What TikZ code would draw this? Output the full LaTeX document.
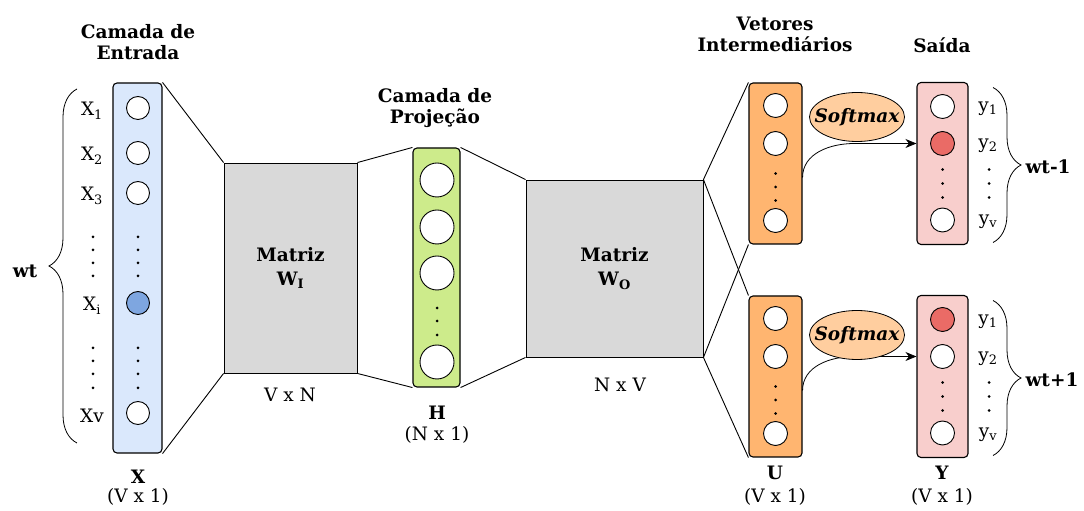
\documentclass[tikz,border=0pt]{standalone}
\usepackage{fontspec}
\setmainfont{DejaVu Serif}
\usetikzlibrary{shapes.geometric,decorations.pathreplacing,arrows.meta}

\definecolor{azul}{HTML}{DAE8FC}
\definecolor{azulesc}{HTML}{7EA6E0}
\definecolor{verde}{HTML}{CDEB8B}
\definecolor{laranja}{HTML}{FFB570}
\definecolor{pessego}{HTML}{FFCE9F}
\definecolor{rosa}{HTML}{F8CECC}
\definecolor{vermelho}{HTML}{EA6B66}
\definecolor{cinza}{HTML}{D9D9D9}

\begin{document}
\begin{tikzpicture}[
x=1pt,y=1pt,
every node/.style={font=\fontsize{18.5}{21}\selectfont},
coluna/.style={draw=black,line width=1.1pt,rounded corners=4pt,inner sep=0pt},
neuro/.style={circle,draw=black,fill=white,line width=0.9pt,inner sep=0pt,minimum size=#1},
neuro/.default=23pt,
matriz/.style={draw=black,fill=cinza,line width=0.9pt,align=center,
	font=\fontsize{18.5}{24}\selectfont\bfseries},
titulo/.style={align=center,font=\fontsize{18.5}{21}\selectfont\bfseries},
softmax/.style={ellipse,draw=black,fill=pessego,line width=0.8pt,inner xsep=-12pt,inner ysep=0pt,
	minimum width=95pt,minimum height=49pt,font=\fontsize{18.5}{21}\selectfont\bfseries\itshape},
chave/.style={decorate,decoration={brace,amplitude=28pt},line width=0.8pt},
liga/.style={line width=0.9pt},
seta/.style={-{Stealth[length=11pt,width=9pt]},line width=0.8pt}
]
\useasboundingbox (0,0) rectangle (1084,511);

% camada de entrada
\node[titulo] (tEntrada) at (138,469) {Camada de\\Entrada};
\node[coluna,fill=azul,minimum width=49pt,minimum height=370pt] (X) at (137.5,243) {};
\foreach \n/\y/\c/\t in {1/403/white/X\textsubscript{1},2/358/white/X\textsubscript{2},
	3/318/white/X\textsubscript{3},i/208/azulesc/X\textsubscript{i},v/98/white/Xv}{
	\node[neuro,fill=\c] (x\n) at (138,\y) {};
	\node (lx\n) at (92,\y-3) {\t};
}
\foreach \y in {274,261,248,235,163,150,137,123}{
	\fill (138,\y) circle (1.5pt);
	\fill (93,\y) circle (1.5pt);
}
\draw[chave] (77,68) -- (77,422);
\node[titulo] (wt) at (25,240) {wt};
\node[titulo] (nX) at (138,34) {X};
\node (dX) at (138,14) {(V x 1)};

% matriz de entrada
\node[matriz,minimum width=133pt,minimum height=210pt] (WI) at (290.5,243) {Matriz\\W\textsubscript{I}};
\node (dWI) at (290,116) {V x N};

% camada de projecao
\node[titulo] (tProj) at (435,403) {Camada de\\Projeção};
\node[coluna,fill=verde,minimum width=47pt,minimum height=239pt] (H) at (436.5,243.5) {};
\foreach \n/\y in {1/331,2/284,3/238,n/149}
	\node[neuro=34pt] (h\n) at (437,\y) {};
\foreach \y in {203,190,176}
	\fill (437,\y) circle (1.5pt);
\node[titulo] (nH) at (437,98) {H};
\node (dH) at (437,76) {(N x 1)};

% matriz de saida
\node[matriz,minimum width=177pt,minimum height=177pt] (WO) at (614.5,242.5) {Matriz\\W\textsubscript{O}};
\node (dWO) at (620,126) {N x V};

% vetores intermediarios e saida
\node[titulo] (tVet) at (775,477) {Vetores\\Intermediários};
\node[titulo] (tSaida) at (942,466) {Saída};
\foreach \k/\cy/\ca/\cb/\sy/\w in {1/347.5/white/vermelho/46.5/wt-1,2/134.5/vermelho/white/41.5/wt+1}{
	\node[coluna,fill=laranja,minimum width=53pt,minimum height=161pt] (U\k) at (775.5,\cy) {};
	\node[neuro=24pt] (u\k1) at (775.5,\cy+58) {};
	\node[neuro=24pt] (u\k2) at (775.5,\cy+20) {};
	\node[neuro=24pt] (u\k3) at (775.5,\cy-57) {};
	\foreach \d in {-10,-23.5,-37}
		\fill (775.5,\cy+\d) circle (1.5pt);
	\node[coluna,fill=rosa,minimum width=51pt,minimum height=162pt] (Y\k) at (942.5,\cy) {};
	\node[neuro=24pt,fill=\ca] (y\k1) at (942.5,\cy+57) {};
	\node[neuro=24pt,fill=\cb] (y\k2) at (942.5,\cy+20) {};
	\node[neuro=24pt] (y\k3) at (942.5,\cy-56.5) {};
	\foreach \d in {-6,-20,-34}{
		\fill (942.5,\cy+\d) circle (1.5pt);
		\fill (989,\cy+\d) circle (1.5pt);
	}
	\node (ly\k1) at (988,\cy+55) {y\textsubscript{1}};
	\node (ly\k2) at (988,\cy+18) {y\textsubscript{2}};
	\node (ly\k3) at (988,\cy-58.5) {y\textsubscript{v}};
	\draw[chave] (993,\cy+76) -- (993,\cy-79);
	\node[titulo,anchor=west] (w\k) at (1022,\cy-3) {\w};
	% softmax
	\coordinate (c\k) at (Y\k.west |- y\k2);
	\draw[seta] ([yshift=-14pt]U\k.east) to[out=90,in=180] ([xshift=-62pt]c\k) -- (c\k);
	\node[softmax] (sm\k) at (857,\cy+\sy) {Softmax};
}
\node[titulo] (nU) at (775,38) {U};
\node (dU) at (775,14) {(V x 1)};
\node[titulo] (nY) at (942,38) {Y};
\node (dY) at (942,14) {(V x 1)};

% ligacoes entre camadas
\draw[liga] (X.north east) -- (WI.north west) (X.south east) -- (WI.south west);
\draw[liga] (WI.north east) -- (H.north west) (WI.south east) -- (H.south west);
\draw[liga] (H.north east) -- (WO.north west) (H.south east) -- (WO.south west);
\draw[liga] (WO.north east) -- (U1.north west) (WO.north east) -- (U2.north west);
\draw[liga] (WO.south east) -- (U1.south west) (WO.south east) -- (U2.south west);
\end{tikzpicture}
\end{document}
